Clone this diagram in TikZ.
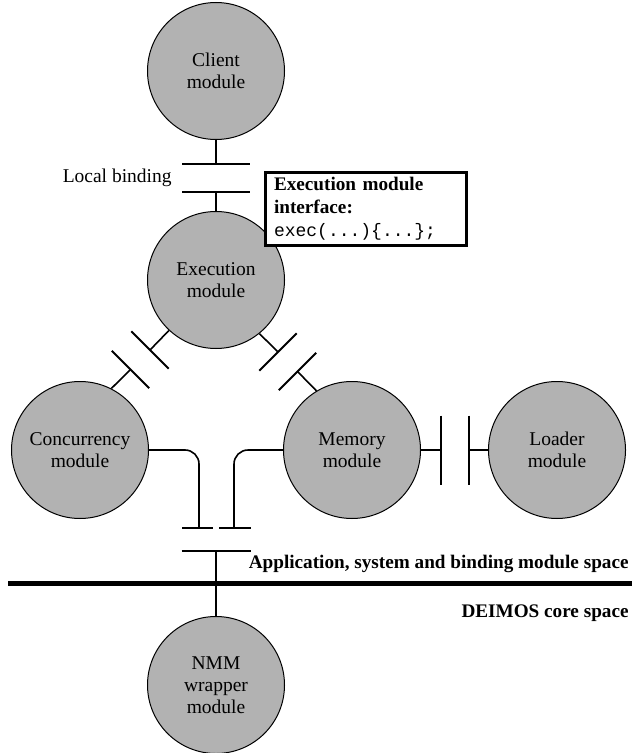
\documentclass[tikz,border=0pt]{standalone}
\usepackage{fontspec}
\setmainfont{Liberation Serif}
\setmonofont{Liberation Mono}
\usetikzlibrary{positioning,calc}
\tikzset{
  % moduler
  mod/.style={circle,draw=black,fill=black!30,line width=0.5pt,inner sep=0pt,
              minimum size=68.5pt,align=center,font=\fontsize{9.75}{11}\selectfont},
  % bindningar
  wire/.style={draw=black,line width=0.8pt},
  bar/.style={draw=black,line width=1pt},
  divider/.style={draw=black,line width=2.5pt},
  % texter
  lbl/.style={inner sep=0pt,font=\fontsize{9.75}{11}\selectfont},
  spacelbl/.style={inner sep=0pt,font=\fontsize{9.6}{11}\selectfont\bfseries},
  ifbox/.style={draw=black,fill=white,line width=1.5pt,align=left,text width=92pt,
                inner xsep=4.25pt,inner ysep=1.8pt,minimum height=36.5pt,
                font=\fontsize{9.6}{11.5}\selectfont},
}
\begin{document}
\begin{tikzpicture}[x=0.5pt,y=-0.5pt]
\useasboundingbox (0,0) rectangle (632,753);
  \node[mod] (client) at (216,71) {Client\\module};
  \node[mod] (exec) at (216,280) {Execution\\module};
  \node[mod] (conc) at (80,450) {Concurrency\\module};
  \node[mod] (mem) at (352,450) {Memory\\module};
  \node[mod] (loader) at (557,450) {Loader\\module};
  \node[mod] (nmm) at (216,685) {NMM\\wrapper\\module};
  % lokal bindning klient - exekvering
  \coordinate (lbA) at (216,164);
  \coordinate (lbB) at (216,192);
  \draw[wire] (client) -- (lbA);
  \draw[bar] (lbA) +(-34,0) -- +(34,0);
  \draw[bar] (lbB) +(-34,0) -- +(34,0);
  \draw[wire] (exec) -- (lbB);
  \node[lbl,anchor=east] (lbtext) at (172,178) {Local binding};
  \node[ifbox,anchor=north west] (iface) at (264,171)
    {\textbf{Execution module}\\\textbf{interface:}\\{\fontsize{9}{11.5}\selectfont\texttt{exec(...)\{...\};}}};
  % exekvering - concurrency
  \coordinate (cbA) at (150,350);
  \coordinate (cbB) at (130.5,369.5);
  \draw[wire] (exec.227) -- (cbA);
  \draw[bar] (cbA) +(-18.7,-18.7) -- +(18.7,18.7);
  \draw[bar] (cbB) +(-18.7,-18.7) -- +(18.7,18.7);
  \draw[wire] (cbB) -- (conc.63);
  % exekvering - memory
  \coordinate (mbA) at (278,352);
  \coordinate (mbB) at (297.5,371.5);
  \draw[wire] (exec.-51) -- (mbA);
  \draw[bar] (mbA) +(-18.7,18.7) -- +(18.7,-18.7);
  \draw[bar] (mbB) +(-18.7,18.7) -- +(18.7,-18.7);
  \draw[wire] (mbB) -- (mem.121);
  % memory - loader
  \coordinate (ldA) at (441,450);
  \coordinate (ldB) at (469,450);
  \draw[wire] (mem.east) -- (ldA);
  \draw[bar] (ldA) +(0,-34.5) -- +(0,34.5);
  \draw[bar] (ldB) +(0,-34.5) -- +(0,34.5);
  \draw[wire] (loader.west) -- (ldB);
  % ned mot kärnan
  \coordinate (cv) at (199,528);
  \coordinate (mv) at (234,528);
  \coordinate (nb) at (216,551);
  \draw[wire,rounded corners=7pt] (conc.east) -| (cv);
  \draw[wire,rounded corners=7pt] (mem.west) -| (mv);
  \draw[bar] (182,528) -- (213,528);
  \draw[bar] (219,528) -- (251,528);
  \draw[bar] (nb) +(-34.5,0) -- +(34.5,0);
  \draw[divider] (8,583) -- (632,583);
  \draw[wire] (nmm) -- (nb);
  \node[spacelbl,anchor=base east] (appspace) at (629,568) {Application, system and binding module space};
  \node[spacelbl,anchor=base east] (corespace) at (629,617) {DEIMOS core space};
\end{tikzpicture}
\end{document}
